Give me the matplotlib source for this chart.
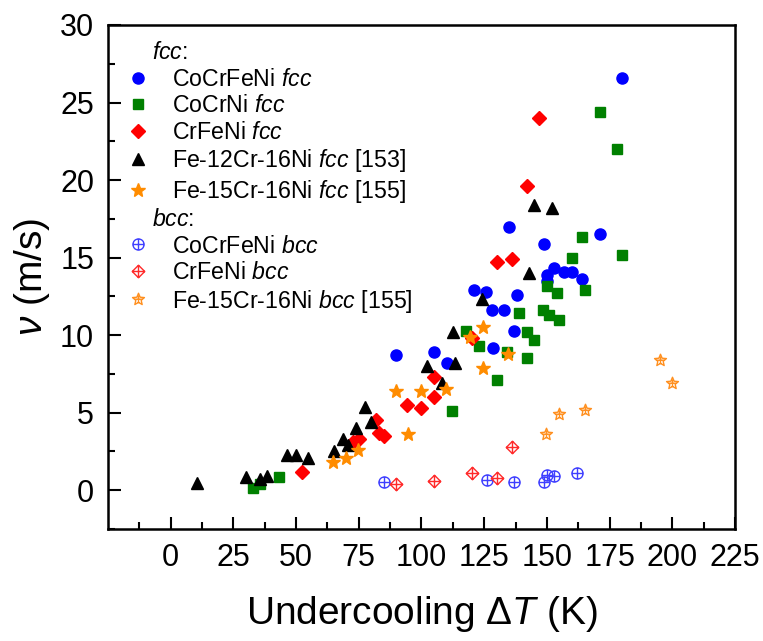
import matplotlib
matplotlib.use('Agg')
import matplotlib.pyplot as plt
from matplotlib.lines import Line2D
from matplotlib.path import Path

plt.rcParams['font.family'] = ['Liberation Sans', 'DejaVu Sans']
plt.rcParams['mathtext.fontset'] = 'custom'
plt.rcParams['mathtext.rm'] = 'Liberation Sans'
plt.rcParams['mathtext.it'] = 'Liberation Sans:italic'

# fcc data
cocrfeni_fcc_T = [90, 105, 110, 121, 125.7, 128, 128.6, 133, 135, 137, 138, 149, 150, 150, 153, 157, 160, 164, 171, 180]
cocrfeni_fcc_v = [8.7, 8.9, 8.2, 12.9, 12.8, 11.6, 9.2, 11.6, 17.0, 10.3, 12.6, 15.9, 13.9, 13.5, 14.3, 14.1, 14.1, 13.6, 16.5, 26.6]

cocrni_fcc_T = [33, 35.5, 43, 112, 117.7, 123, 130, 134, 139, 142, 142, 145, 148.5, 150, 151, 154, 155, 160, 164, 165, 171, 178, 180]
cocrni_fcc_v = [0.15, 0.4, 0.85, 5.1, 10.3, 9.3, 7.1, 8.9, 11.4, 10.2, 8.5, 9.7, 11.6, 13.2, 11.3, 12.7, 11.0, 15.0, 16.3, 12.9, 24.4, 22.0, 15.2]

crfeni_fcc_T = [52.4, 72.8, 75.2, 82, 83, 85, 94.2, 100, 105, 105, 120, 130, 136, 142, 147]
crfeni_fcc_v = [1.15, 3.1, 3.3, 4.5, 3.7, 3.5, 5.5, 5.3, 6.0, 7.3, 9.8, 14.7, 14.9, 19.6, 24.0]

fe12_fcc_T = [10.5, 30, 35.6, 38.4, 46.3, 50, 54.8, 65, 68.7, 70.7, 74, 77.6, 80, 102.2, 108.1, 112.6, 113.3, 124.2, 143, 144.9, 152.1]
fe12_fcc_v = [0.45, 0.85, 0.7, 0.9, 2.25, 2.25, 2.1, 2.55, 3.3, 2.9, 4.0, 5.4, 4.4, 8.0, 6.9, 10.2, 8.2, 12.3, 14.0, 18.4, 18.2]

fe15_fcc_T = [64.6, 70, 74.6, 90, 94.6, 99.8, 109.8, 119.3, 124.6, 124.6, 134.6]
fe15_fcc_v = [1.8, 2.1, 2.6, 6.4, 3.6, 6.4, 6.5, 9.9, 7.9, 10.5, 8.8]

# bcc data
cocrfeni_bcc_T = [85, 126, 137, 149, 150, 153, 162]
cocrfeni_bcc_v = [0.5, 0.65, 0.5, 0.5, 1.0, 0.95, 1.1]

crfeni_bcc_T = [90, 105, 120, 130, 136]
crfeni_bcc_v = [0.4, 0.6, 1.1, 0.8, 2.8]

fe15_bcc_T = [149.7, 155, 165, 195, 200]
fe15_bcc_v = [3.6, 4.9, 5.2, 8.4, 6.9]

cross = [Path([[0, -1], [0, 1]]), Path([[-1, 0], [1, 0]])]
circ_cross = Path.make_compound_path(Path.unit_circle(), *cross)
diam = Path([[0, -1], [1, 0], [0, 1], [-1, 0], [0, -1]], closed=True)
diam_cross = Path.make_compound_path(diam, *cross)
star_cross = Path.make_compound_path(Path.unit_regular_star(5, 0.45),
                                     Path([[0, -0.6], [0, 0.6]]), Path([[-0.6, 0.05], [0.6, 0.05]]))

fig = plt.figure(figsize=(7.63, 6.41), dpi=100)
ax = fig.add_axes([0.1415, 0.1747, 0.8218, 0.7863])

h1, = ax.plot(cocrfeni_fcc_T, cocrfeni_fcc_v, 'o', color='#0000ff', ms=8, label='CoCrFeNi $\\it{fcc}$')
h2, = ax.plot(cocrni_fcc_T, cocrni_fcc_v, 's', color='#008000', ms=6.5, label='CoCrNi $\\it{fcc}$')
h3, = ax.plot(crfeni_fcc_T, crfeni_fcc_v, 'D', color='#ff0000', ms=7, label='CrFeNi $\\it{fcc}$')
h4, = ax.plot(fe12_fcc_T, fe12_fcc_v, '^', color='black', ms=8.5, label='Fe-12Cr-16Ni $\\it{fcc}$ [153]')
h5, = ax.plot(fe15_fcc_T, fe15_fcc_v, '*', color='#ff8c00', ms=10, label='Fe-15Cr-16Ni $\\it{fcc}$ [155]')
h6, = ax.plot(cocrfeni_bcc_T, cocrfeni_bcc_v, linestyle='none', marker=circ_cross, ms=8, mfc='none',
              mec='#3f3fff', mew=1.0, label='CoCrFeNi $\\it{bcc}$')
h7, = ax.plot(crfeni_bcc_T, crfeni_bcc_v, linestyle='none', marker=diam_cross, ms=9, mfc='none',
              mec='#ff2a2a', mew=1.0, label='CrFeNi $\\it{bcc}$')
h8, = ax.plot(fe15_bcc_T, fe15_bcc_v, linestyle='none', marker=star_cross, ms=9, mfc='none',
              mec='#ff9020', mew=1.0, label='Fe-15Cr-16Ni $\\it{bcc}$ [155]')

blank = Line2D([], [], linestyle='none', label=' ')
handles = [blank, h1, h2, h3, h4, h5, blank, h6, h7, h8]
labels = [' ' if h is blank else h.get_label() for h in handles]
leg = ax.legend(handles, labels, loc='upper left', bbox_to_anchor=(0.004, 1.0), frameon=False,
                fontsize=16.7, numpoints=1, handlelength=1.0, handletextpad=0.95,
                labelspacing=0.15, borderaxespad=0.3)

# group headings placed on the blank legend rows
fig.canvas.draw()
for idx, head in [(0, '$\\it{fcc}$:'), (6, '$\\it{bcc}$:')]:
    bb = leg.get_texts()[idx].get_window_extent()
    yc = (bb.y0 + bb.y1) / 2
    ax.annotate(head, xy=(152, yc), xycoords='figure pixels', fontsize=16.7, va='center')

ax.set_xlim(-25, 225)
ax.set_ylim(-2.5, 30)
ax.set_xticks([0, 25, 50, 75, 100, 125, 150, 175, 200, 225])
ax.set_xticks([-12.5, 12.5, 37.5, 62.5, 87.5, 112.5, 137.5, 162.5, 187.5, 212.5], minor=True)
ax.set_yticks([0, 5, 10, 15, 20, 25, 30])
ax.set_yticks([-2.5, 2.5, 7.5, 12.5, 17.5, 22.5, 27.5], minor=True)
ax.tick_params(which='both', direction='in', width=1.5, labelsize=22, pad=10)
ax.tick_params(which='major', length=9)
ax.tick_params(which='minor', length=5)
for s in ax.spines.values():
    s.set_linewidth(1.8)

ax.set_xlabel('Undercooling $\\Delta\\it{T}$ (K)', fontsize=28, labelpad=15)
ax.set_ylabel('$\\nu$ (m/s)', fontsize=28, labelpad=6)

fig.savefig('out.png', dpi=100)
